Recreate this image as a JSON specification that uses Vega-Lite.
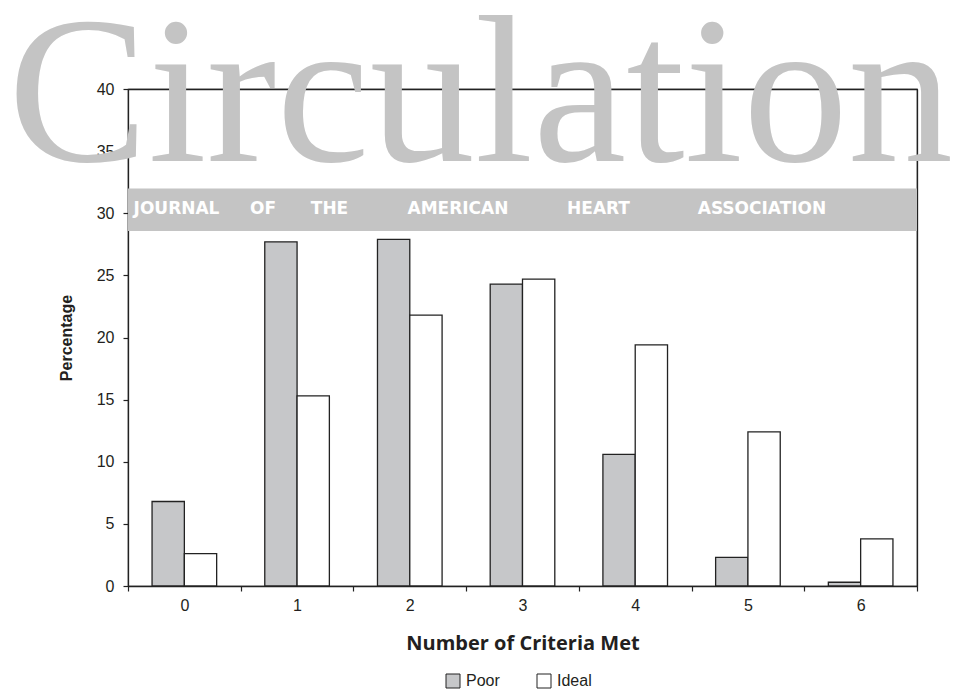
{
  "$schema": "https://vega.github.io/schema/vega-lite/v6.json",
  "width": 789,
  "height": 497,
  "autosize": {"type": "none"},
  "padding": {"left": 128, "top": 89, "right": 39, "bottom": 104},
  "background": "white",
  "config": {
    "view": {"stroke": "#222222", "strokeWidth": 1.2},
    "axis": {
      "grid": false,
      "domainColor": "#222222",
      "domainWidth": 1.3,
      "tickColor": "#222222",
      "tickWidth": 1.2,
      "tickSize": 5,
      "labelColor": "#231f20",
      "titleColor": "#231f20",
      "labelFont": "Liberation Sans",
      "labelFontSize": 16,
      "zindex": 1
    },
    "legend": {
      "labelFont": "Liberation Sans",
      "labelFontSize": 16,
      "labelColor": "#231f20"
    }
  },
  "datasets": {
    "bars": [
      {"criteria": "0", "group": "Poor", "pct": 6.8},
      {"criteria": "0", "group": "Ideal", "pct": 2.6},
      {"criteria": "1", "group": "Poor", "pct": 27.7},
      {"criteria": "1", "group": "Ideal", "pct": 15.3},
      {"criteria": "2", "group": "Poor", "pct": 27.9},
      {"criteria": "2", "group": "Ideal", "pct": 21.8},
      {"criteria": "3", "group": "Poor", "pct": 24.3},
      {"criteria": "3", "group": "Ideal", "pct": 24.7},
      {"criteria": "4", "group": "Poor", "pct": 10.6},
      {"criteria": "4", "group": "Ideal", "pct": 19.4},
      {"criteria": "5", "group": "Poor", "pct": 2.3},
      {"criteria": "5", "group": "Ideal", "pct": 12.4},
      {"criteria": "6", "group": "Poor", "pct": 0.3},
      {"criteria": "6", "group": "Ideal", "pct": 3.8}
    ],
    "one": [{"item": "watermark"}]
  },
  "data": {"name": "bars"},
  "resolve": {"axis": {"x": "independent", "y": "independent"}},
  "layer": [
    {
      "data": {"name": "one"},
      "mark": {"type": "rect", "color": "#c4c4c4"},
      "encoding": {"y": {"datum": 32.0, "axis": null}, "y2": {"datum": 28.57}}
    },
    {
      "data": {"name": "one"},
      "mark": {"type": "text", "text": "Circulation", "font": "Liberation Serif", "fontSize": 210, "color": "#c4c4c4", "baseline": "alphabetic", "align": "center", "dx": -42},
      "encoding": {"y": {"datum": 34.2, "axis": null}}
    },
    {
      "data": {"name": "one"},
      "mark": {"type": "text", "text": "JOURNAL", "font": "DejaVu Sans", "fontWeight": "bold", "fontSize": 17, "color": "white", "baseline": "alphabetic", "align": "center", "dx": -346},
      "encoding": {"y": {"datum": 29.94, "axis": null}}
    },
    {
      "data": {"name": "one"},
      "mark": {"type": "text", "text": "OF", "font": "DejaVu Sans", "fontWeight": "bold", "fontSize": 17, "color": "white", "baseline": "alphabetic", "align": "center", "dx": -259.5},
      "encoding": {"y": {"datum": 29.94, "axis": null}}
    },
    {
      "data": {"name": "one"},
      "mark": {"type": "text", "text": "THE", "font": "DejaVu Sans", "fontWeight": "bold", "fontSize": 17, "color": "white", "baseline": "alphabetic", "align": "center", "dx": -193},
      "encoding": {"y": {"datum": 29.94, "axis": null}}
    },
    {
      "data": {"name": "one"},
      "mark": {"type": "text", "text": "AMERICAN", "font": "DejaVu Sans", "fontWeight": "bold", "fontSize": 17, "color": "white", "baseline": "alphabetic", "align": "center", "dx": -64.5},
      "encoding": {"y": {"datum": 29.94, "axis": null}}
    },
    {
      "data": {"name": "one"},
      "mark": {"type": "text", "text": "HEART", "font": "DejaVu Sans", "fontWeight": "bold", "fontSize": 17, "color": "white", "baseline": "alphabetic", "align": "center", "dx": 76},
      "encoding": {"y": {"datum": 29.94, "axis": null}}
    },
    {
      "data": {"name": "one"},
      "mark": {"type": "text", "text": "ASSOCIATION", "font": "DejaVu Sans", "fontWeight": "bold", "fontSize": 17, "color": "white", "baseline": "alphabetic", "align": "center", "dx": 239.5},
      "encoding": {"y": {"datum": 29.94, "axis": null}}
    },
    {
      "mark": {"type": "bar", "stroke": "#222222", "strokeWidth": 1.3},
      "encoding": {
        "x": {
          "field": "criteria",
          "type": "nominal",
          "sort": ["0", "1", "2", "3", "4", "5", "6"],
          "scale": {"paddingInner": 0, "paddingOuter": 0},
          "axis": {
            "orient": "bottom",
            "labelAngle": 0,
            "tickBand": "extent",
            "labelPadding": 6,
            "title": "Number of Criteria Met",
            "titleFont": "Open Sans",
            "titleFontWeight": "bold",
            "titleFontSize": 20,
            "titlePadding": 20
          }
        },
        "xOffset": {"field": "group", "type": "nominal", "sort": ["Poor", "Ideal"], "scale": {"paddingInner": 0, "paddingOuter": 0.7446}},
        "y": {
          "field": "pct",
          "type": "quantitative",
          "scale": {"domain": [0, 40], "nice": false},
          "axis": {
            "orient": "left",
            "values": [0, 5, 10, 15, 20, 25, 30, 35, 40],
            "labelPadding": 9,
            "title": "Percentage",
            "titleFont": "Liberation Sans",
            "titleFontWeight": "bold",
            "titleFontSize": 16,
            "titlePadding": 22
          }
        },
        "fill": {
          "field": "group",
          "type": "nominal",
          "scale": {"domain": ["Poor", "Ideal"], "range": ["#c6c7c9", "#ffffff"]},
          "legend": {
            "title": null,
            "orient": "none",
            "direction": "horizontal",
            "legendX": 317,
            "legendY": 584,
            "padding": 0,
            "symbolType": "square",
            "symbolSize": 196,
            "symbolStrokeColor": "#222222",
            "symbolStrokeWidth": 1,
            "labelOffset": 5,
            "columnPadding": 35
          }
        }
      }
    },
    {
      "mark": {"type": "point", "opacity": 0},
      "encoding": {
        "x": {
          "field": "criteria",
          "type": "nominal",
          "sort": ["0", "1", "2", "3", "4", "5", "6"],
          "axis": {"orient": "top", "labels": false, "ticks": false, "title": null, "domain": true}
        },
        "y": {
          "field": "pct",
          "type": "quantitative",
          "axis": {"orient": "right", "labels": false, "ticks": false, "title": null, "domain": true}
        }
      }
    }
  ]
}
